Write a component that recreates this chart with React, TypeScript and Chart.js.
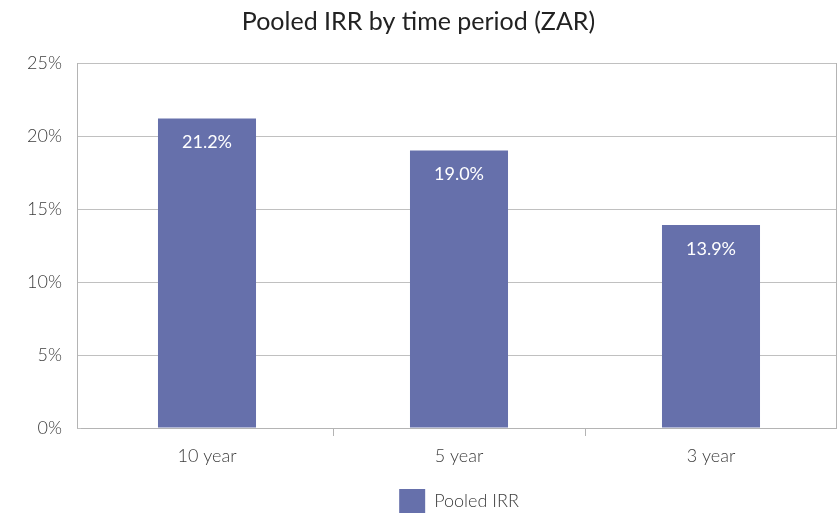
import React, { useEffect, useRef } from "react";
import { Chart, registerables } from "chart.js";

Chart.register(...registerables);

const categories = ["10 year", "5 year", "3 year"];
const pooledIrr = [21.2, 19.0, 13.9];
const yTicks = [0, 5, 10, 15, 20, 25];
const titleText = "Pooled IRR by time period (ZAR)";
const seriesName = "Pooled IRR";

const BAR_COLOR = "#6670AB";
const LINE = "#b4b4b4";
const TEXT = "#3c3c3c";
const FONT = "Lato";
const AREA_BOTTOM = 428;
const BOTTOM_PAD = -8;

const valueLabels = {
  id: "valueLabels",
  afterDatasetsDraw(chart: any) {
    const ctx = chart.ctx;
    const meta = chart.getDatasetMeta(0);
    ctx.save();
    ctx.fillStyle = "#ffffff";
    ctx.font = `18px ${FONT}`;
    ctx.textAlign = "center";
    ctx.textBaseline = "middle";
    meta.data.forEach((bar: any, i: number) => {
      const v = chart.data.datasets[0].data[i];
      ctx.fillText(v.toFixed(1) + "%", bar.x, bar.y + 24);
    });
    ctx.restore();
  },
};

const frame = {
  id: "frame",
  afterDraw(chart: any) {
    const { ctx, chartArea } = chart;
    ctx.save();
    ctx.strokeStyle = LINE;
    ctx.lineWidth = 1;
    ctx.beginPath();
    ctx.moveTo(836.5, chartArea.top);
    ctx.lineTo(836.5, chartArea.bottom);
    ctx.moveTo(77.5, chartArea.top);
    ctx.lineTo(77.5, chartArea.bottom + 0.5);
    ctx.stroke();
    ctx.restore();
  },
};

export default function App() {
  const ref = useRef<HTMLCanvasElement>(null);
  useEffect(() => {
    document.body.style.margin = "0";
    const chart = new Chart(ref.current!, {
      type: "bar",
      data: {
        labels: categories,
        datasets: [
          {
            label: seriesName,
            data: pooledIrr,
            backgroundColor: BAR_COLOR,
            borderWidth: 0,
            categoryPercentage: 1,
            barPercentage: 0.389,
          },
        ],
      },
      options: {
        responsive: false,
        animation: false,
        layout: { padding: { left: 0, right: 0, top: 0, bottom: BOTTOM_PAD } },
        plugins: {
          title: {
            display: true,
            text: titleText,
            color: "#222222",
            font: { family: FONT, size: 25, weight: "normal" },
            padding: { top: 7, bottom: 26 },
          },
          legend: {
            display: true,
            position: "bottom",
            fullSize: false,
            labels: {
              boxWidth: 26,
              boxHeight: 24,
              padding: 0,
              color: TEXT,
              font: { family: FONT, size: 18, weight: "300" },
            },
          },
          tooltip: { enabled: false },
        },
        scales: {
          x: {
            offset: true,
            grid: {
              offset: true,
              drawOnChartArea: false,
              tickLength: 8,
              color: (c: any) =>
                c.index === 0 || c.index === categories.length ? "rgba(0,0,0,0)" : LINE,
            },
            border: { color: LINE },
            ticks: {
              color: TEXT,
              font: { family: FONT, size: 18, weight: "300" },
              padding: 9,
            },
            afterFit: (s: any) => {
              const h = s.chart.legend ? s.chart.legend.height : NaN;
              const lg = Number.isFinite(h) && h > 0 ? h : 34;
              s.height = 515 - BOTTOM_PAD - AREA_BOTTOM - lg;
            },
          },
          y: {
            min: 0,
            max: 25,
            afterBuildTicks: (s: any) => {
              s.ticks = yTicks.map((v) => ({ value: v }));
            },
            grid: { color: "#c0c0c0", drawTicks: true, tickLength: 4 },
            border: { display: false },
            ticks: {
              color: TEXT,
              font: { family: FONT, size: 18, weight: "300" },
              padding: 15,
              callback: (v: any) => v + "%",
            },
            afterFit: (s: any) => {
              s.width = 81;
            },
          },
        },
      },
      plugins: [valueLabels, frame],
    });
    return () => chart.destroy();
  }, []);
  return (
    <div style={{ width: 837, height: 515 }}>
      <canvas ref={ref} width={837} height={515} />
    </div>
  );
}
